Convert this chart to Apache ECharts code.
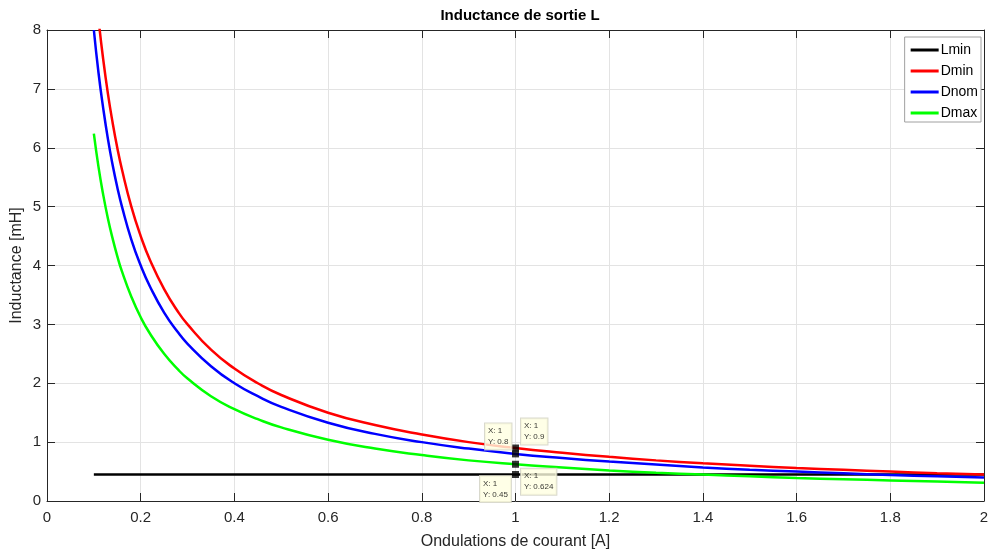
<!DOCTYPE html>
<html>
<head>
<meta charset="utf-8">
<script src="https://cdn.jsdelivr.net/npm/echarts@6/dist/echarts.min.js"></script>
<style>
  html, body { margin: 0; padding: 0; background: #fff; }
  #chart { width: 988px; height: 555px; }
</style>
</head>
<body>
<div id="chart"></div>
<script>
// ripple current [A]
var ripple = [0.1, 0.11, 0.12, 0.13, 0.14, 0.15, 0.16, 0.18, 0.2, 0.22, 0.25, 0.28, 0.3, 0.35, 0.4, 0.45, 0.5,
              0.6, 0.7, 0.8, 0.9, 1, 1.1, 1.2, 1.3, 1.4, 1.5, 1.6, 1.7, 1.8, 1.9, 2];
// inductance [mH]
var dmin = [9.0, 8.18, 7.5, 6.92, 6.43, 6.0, 5.63, 5.0, 4.5, 4.09, 3.6, 3.21, 3.0, 2.57, 2.25, 2.0, 1.8,
            1.5, 1.29, 1.13, 1.0, 0.9, 0.82, 0.75, 0.69, 0.64, 0.6, 0.56, 0.53, 0.5, 0.47, 0.45];
var dnom = [8.0, 7.27, 6.67, 6.15, 5.71, 5.33, 5.0, 4.44, 4.0, 3.64, 3.2, 2.86, 2.67, 2.29, 2.0, 1.78, 1.6,
            1.33, 1.14, 1.0, 0.89, 0.8, 0.73, 0.67, 0.62, 0.57, 0.53, 0.5, 0.47, 0.44, 0.42, 0.4];
var dmax = [6.24, 5.67, 5.2, 4.8, 4.46, 4.16, 3.9, 3.47, 3.12, 2.84, 2.5, 2.23, 2.08, 1.78, 1.56, 1.39, 1.25,
            1.04, 0.89, 0.78, 0.69, 0.624, 0.57, 0.52, 0.48, 0.45, 0.42, 0.39, 0.37, 0.35, 0.33, 0.31];
var lminX = [0.1, 2];
var lmin = [0.45, 0.45];
// data tips at x = 1
var tipX = [1, 1, 1, 1];
var tipY = [0.9, 0.8, 0.624, 0.45];
var tipOffset = [[9, -26], [-27, -27], [9, 8], [-32, 5]];

function pairs(xs, ys) {
    var out = [];
    for (var i = 0; i < xs.length; i++) out.push([xs[i], ys[i]]);
    return out;
}

var axisColor = '#262626';
var font = 'Liberation Sans, Arial, sans-serif';

var tips = [];
for (var i = 0; i < tipX.length; i++) {
    tips.push({
        value: [tipX[i], tipY[i]],
        label: { position: tipOffset[i] }
    });
}

// box axes (top / right) only carry the inward ticks, like a matlab "box on"
function boxAxis(pos, max, step) {
    return {
        type: 'value', min: 0, max: max, interval: step, position: pos,
        axisLine: { show: true, onZero: false, lineStyle: { color: axisColor } },
        axisTick: { show: true, inside: true, length: 8, lineStyle: { color: axisColor } },
        axisLabel: { show: false },
        splitLine: { show: false }
    };
}

var myChart = echarts.init(document.getElementById('chart'));
var option = {
    animation: false,
    textStyle: { fontFamily: font },
    title: {
        text: 'Inductance de sortie L',
        left: 515, top: 3, textAlign: 'center',
        textStyle: { fontSize: 15, fontWeight: 'bold', color: '#000', fontFamily: font }
    },
    legend: {
        orient: 'vertical',
        right: 7, top: 37,
        padding: [6, 3, 2, 6],
        itemGap: 7,
        itemWidth: 28, itemHeight: 3,
        icon: 'rect',
        backgroundColor: '#fff',
        borderColor: '#a0a0a0', borderWidth: 1,
        textStyle: { fontSize: 14, color: '#000', fontFamily: font, padding: [0, 0, 0, -3] },
        data: ['Lmin', 'Dmin', 'Dnom', 'Dmax']
    },
    grid: { left: 47, right: 4, top: 30, bottom: 54, show: false, outerBoundsMode: 'none', containLabel: false },
    xAxis: [{
        type: 'value', min: 0, max: 2, interval: 0.2, position: 'bottom',
        name: 'Ondulations de courant [A]', nameLocation: 'middle', nameGap: 33,
        nameTextStyle: { fontSize: 16, color: axisColor },
        axisLine: { show: true, onZero: false, lineStyle: { color: axisColor } },
        axisTick: { show: true, inside: true, length: 8, lineStyle: { color: axisColor } },
        axisLabel: { fontSize: 15, color: axisColor, margin: 9, showMaxLabel: true },
        splitLine: { show: true, lineStyle: { color: '#e3e3e3' } }
    }, boxAxis('top', 2, 0.2)],
    yAxis: [{
        type: 'value', min: 0, max: 8, interval: 1, position: 'left',
        name: 'Inductance [mH]', nameLocation: 'middle', nameGap: 22, nameMoveOverlap: false,
        nameTextStyle: { fontSize: 16, color: axisColor },
        axisLine: { show: true, onZero: false, lineStyle: { color: axisColor } },
        axisTick: { show: true, inside: true, length: 8, lineStyle: { color: axisColor } },
        axisLabel: { fontSize: 15, color: axisColor, margin: 6 },
        splitLine: { show: true, lineStyle: { color: '#e3e3e3' } }
    }, boxAxis('right', 8, 1)],
    series: [
        {
            name: 'Lmin', type: 'line', data: pairs(lminX, lmin),
            symbol: 'none', color: '#000', lineStyle: { width: 2.5 }, z: 2
        },
        {
            name: 'Dmin', type: 'line', data: pairs(ripple, dmin), smooth: true,
            symbol: 'none', color: '#ff0000', lineStyle: { width: 2.5 }, z: 2
        },
        {
            name: 'Dnom', type: 'line', data: pairs(ripple, dnom), smooth: true,
            symbol: 'none', color: '#0000ff', lineStyle: { width: 2.5 }, z: 2
        },
        {
            name: 'Dmax', type: 'line', data: pairs(ripple, dmax), smooth: true,
            symbol: 'none', color: '#00ff00', lineStyle: { width: 2.5 }, z: 2
        },
        {
            name: 'tips', type: 'scatter', data: tips,
            symbol: 'rect', symbolSize: 7, color: '#000', z: 5,
            label: {
                show: true,
                formatter: function (p) { return 'X: ' + p.value[0] + '\nY: ' + p.value[1]; },
                fontSize: 8, lineHeight: 11, color: '#000',
                align: 'left', verticalAlign: 'top',
                backgroundColor: '#ffffe1', borderColor: '#d0d0c0', borderWidth: 1,
                padding: [2, 3, 2, 3]
            }
        }
    ]
};
myChart.setOption(option);
</script>
</body>
</html>
